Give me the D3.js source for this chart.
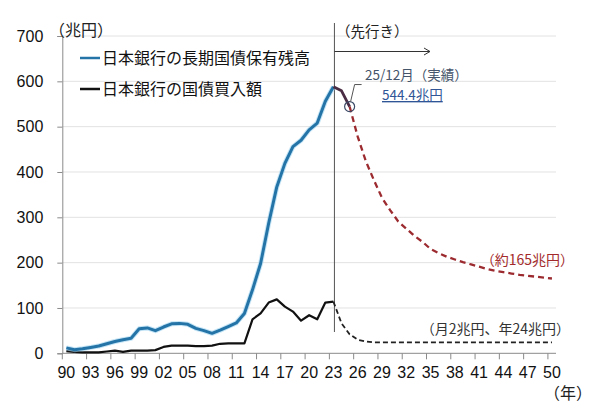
<!DOCTYPE html>
<html>
<head>
<meta charset="utf-8">
<script src="https://cdn.jsdelivr.net/npm/d3@7"></script>
<style>
  body { margin: 0; background: #fff; }
  text { font-family: "Liberation Sans", Arial, sans-serif; }
  .jp { font-family: "Noto Sans CJK JP", "Noto Sans", sans-serif; }
</style>
</head>
<body>
<div id="chart"></div>
<script>
// years on the category axis
const years = d3.range(1990, 2051);
const tickYears = d3.range(1990, 2051, 3);
const yTicks = [0, 100, 200, 300, 400, 500, 600, 700];

// 日本銀行の長期国債保有残高 (兆円), 1990-2023
const holdYears = d3.range(1990, 2024);
const holdings = [12, 8, 10, 13, 16, 21, 26, 30, 33, 54, 56, 50, 58, 65, 66, 64, 55, 50, 44, 51,
                  59, 67, 88, 140, 198, 287, 367, 419, 456, 470, 493, 508, 556, 588];
// 実績 after the line
const recentYears = [2023, 2024, 2025];
const recent = [588, 579, 544.4];
// 先行き
const fcYears = d3.range(2025, 2051);
const fcHoldings = [544.4, 478, 424, 382, 343, 316, 291, 275, 259, 246, 230, 221, 213, 207, 201, 196,
                    191, 186, 182, 179, 176, 173, 171, 169, 167, 165];

// 日本銀行の国債買入額 (兆円)
const buyYears = d3.range(1990, 2024);
const purchases = [5, 3, 2, 2, 2, 4, 6, 3, 6, 6, 6, 7, 14, 17, 17, 17, 16, 16, 17, 21,
                   22, 22, 22, 75, 88, 112, 119, 103, 92, 72, 84, 75, 112, 114];
const fcBuyYears = d3.range(2023, 2051);
const fcPurchases = [114, 66, 42, 30, 26, 24, 24, 24, 24, 24, 24, 24, 24, 24, 24, 24, 24, 24, 24, 24,
                     24, 24, 24, 24, 24, 24, 24, 24];

const width = 600, height = 410;
const svg = d3.select('#chart').append('svg')
    .attr('width', width).attr('height', height);

let x = d3.scaleBand().domain(years).range([62.3, 556]).padding(0);
let y = d3.scaleLinear().domain([0, 700]).range([353.3, 36]);
const cx = d => x(d) + x.bandwidth() / 2;

// gridlines
svg.append('g')
    .selectAll('line')
    .data(yTicks.slice(1))
    .enter().append('line')
        .attr('x1', 62.3).attr('x2', 556)
        .attr('y1', d => y(d)).attr('y2', d => y(d))
        .attr('stroke', '#e2e2e2').attr('stroke-width', 1);

// Y axis
let yAxis = svg.append('g')
    .attr('transform', 'translate(62.3,0)')
    .call(d3.axisLeft(y).tickValues(yTicks).tickSize(5).tickPadding(14));
yAxis.select('.domain').attr('stroke', '#8a8a8a');
yAxis.selectAll('.tick line').attr('stroke', '#8a8a8a');
yAxis.selectAll('text').style('font-size', '16px').attr('fill', '#111');

// X axis (ticks at category boundaries, labels at centres)
let xg = svg.append('g');
xg.append('line')
    .attr('x1', 62.3).attr('x2', 556)
    .attr('y1', y(0)).attr('y2', y(0))
    .attr('stroke', '#8a8a8a');
xg.selectAll('.xt')
    .data(tickYears)
    .enter().append('line')
        .attr('x1', d => x(d)).attr('x2', d => x(d))
        .attr('y1', y(0)).attr('y2', y(0) + 6)
        .attr('stroke', '#8a8a8a');
xg.selectAll('.xl')
    .data(tickYears)
    .enter().append('text')
        .attr('x', d => cx(d))
        .attr('y', 378)
        .attr('text-anchor', 'middle')
        .style('font-size', '16px')
        .attr('fill', '#111')
        .text(d => String(d).slice(2));

svg.append('text').attr('class', 'jp')
    .attr('x', 544).attr('y', 399)
    .style('font-size', '16px').attr('fill', '#222')
    .text('（年）');
svg.append('text').attr('class', 'jp')
    .attr('x', 49).attr('y', 36)
    .style('font-size', '16px').attr('fill', '#222')
    .text('（兆円）');

// forecast divider and arrow
svg.append('line')
    .attr('x1', cx(2023) + 1).attr('x2', cx(2023) + 1)
    .attr('y1', 23).attr('y2', 332)
    .attr('stroke', '#555').attr('stroke-width', 1);
svg.append('line')
    .attr('x1', cx(2023) + 1).attr('x2', 430)
    .attr('y1', 51.5).attr('y2', 51.5)
    .attr('stroke', '#333').attr('stroke-width', 1);
svg.append('path')
    .attr('d', 'M424,48 L430,51.5 L424,55')
    .attr('fill', 'none').attr('stroke', '#333').attr('stroke-width', 1);
svg.append('text').attr('class', 'jp')
    .attr('x', 336).attr('y', 37)
    .style('font-size', '14.5px').attr('fill', '#222')
    .text('（先行き）');

let line = d3.line().x(d => cx(d[0])).y(d => y(d[1]));

// 買入額
svg.append('path')
    .datum(d3.zip(buyYears, purchases))
    .attr('d', line)
    .attr('fill', 'none').attr('stroke', '#111').attr('stroke-width', 2.2)
    .attr('stroke-linejoin', 'round');
svg.append('path')
    .datum(d3.zip(fcBuyYears, fcPurchases))
    .attr('d', line)
    .attr('fill', 'none').attr('stroke', '#222').attr('stroke-width', 1.8)
    .attr('stroke-dasharray', '5,3');

// 保有残高
svg.append('path')
    .datum(d3.zip(holdYears, holdings))
    .attr('d', line)
    .attr('fill', 'none').attr('stroke', '#9fd3f0').attr('stroke-width', 5)
    .attr('stroke-linejoin', 'round').attr('opacity', 0.6);
svg.append('path')
    .datum(d3.zip(holdYears, holdings))
    .attr('d', line)
    .attr('fill', 'none').attr('stroke', '#2474a8').attr('stroke-width', 3)
    .attr('stroke-linejoin', 'round');
svg.append('path')
    .datum(d3.zip(fcYears, fcHoldings))
    .attr('d', line)
    .attr('fill', 'none').attr('stroke', '#9c2b30').attr('stroke-width', 2.3)
    .attr('stroke-dasharray', '6,4');
svg.append('path')
    .datum(d3.zip(recentYears, recent))
    .attr('d', line)
    .attr('fill', 'none').attr('stroke', '#4a2d44').attr('stroke-width', 2.8)
    .attr('stroke-linejoin', 'round');

// 25/12 marker
let mx = cx(2025), my = y(544.4);
svg.append('circle')
    .attr('cx', mx).attr('cy', my).attr('r', 5)
    .attr('fill', 'none').attr('stroke', '#3b4a66').attr('stroke-width', 1.2);
svg.append('path')
    .attr('d', `M${mx + 1},${my - 5} L${mx + 5},${my - 22} L${mx + 12},${my - 22}`)
    .attr('fill', 'none').attr('stroke', '#555').attr('stroke-width', 1);
svg.append('text').attr('class', 'jp')
    .attr('x', 365).attr('y', 80)
    .style('font-size', '13.5px').attr('fill', '#44546a')
    .text('25/12月（実績）');
svg.append('text').attr('class', 'jp')
    .attr('x', 382).attr('y', 100)
    .style('font-size', '13.5px').attr('fill', '#2f5597')
    .attr('text-decoration', 'underline')
    .text('544.4兆円');

svg.append('text').attr('class', 'jp')
    .attr('x', 574).attr('y', 265)
    .attr('text-anchor', 'end')
    .style('font-size', '14px').attr('fill', '#a32a2a')
    .text('（約165兆円）');
svg.append('text').attr('class', 'jp')
    .attr('x', 570).attr('y', 334)
    .attr('text-anchor', 'end')
    .style('font-size', '14px').attr('fill', '#333')
    .text('（月2兆円、年24兆円）');

// legend
let legend = [
    { label: '日本銀行の長期国債保有残高', color: '#2474a8', yy: 58 },
    { label: '日本銀行の国債買入額', color: '#111', yy: 89 }
];
legend.forEach(l => {
    svg.append('line')
        .attr('x1', 80).attr('x2', 100)
        .attr('y1', l.yy).attr('y2', l.yy)
        .attr('stroke', l.color).attr('stroke-width', 2.5);
    svg.append('text').attr('class', 'jp')
        .attr('x', 102).attr('y', l.yy + 6)
        .style('font-size', '16px').attr('fill', '#111')
        .text(l.label);
});
</script>
</body>
</html>
